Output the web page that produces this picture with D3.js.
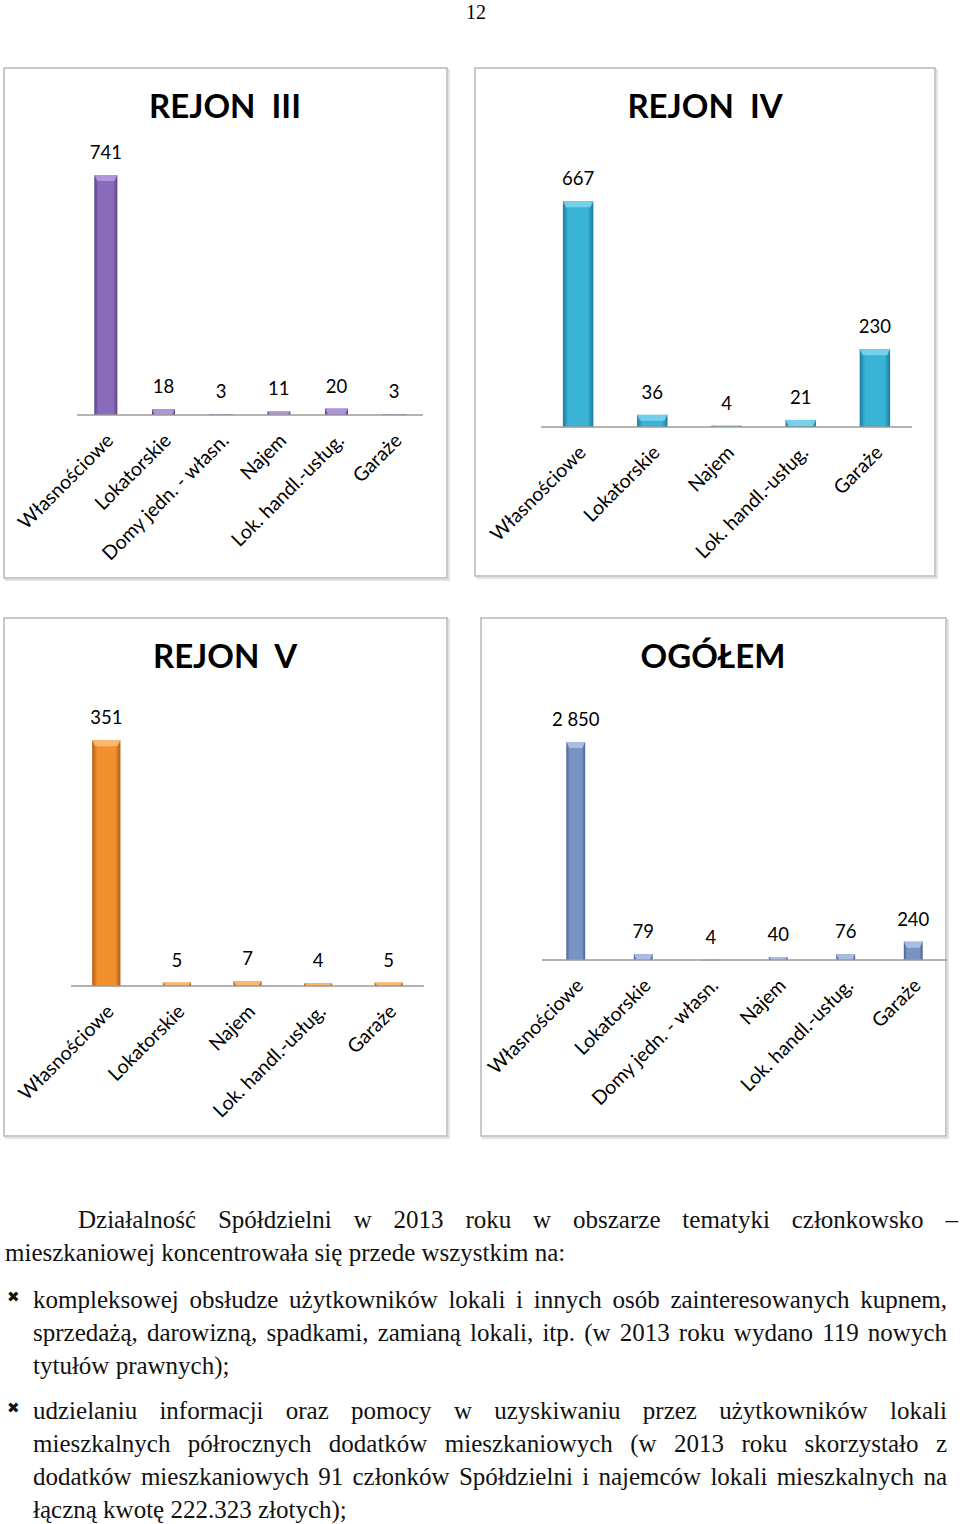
<!DOCTYPE html>
<html><head><meta charset="utf-8">
<script src="https://cdn.jsdelivr.net/npm/d3@7"></script>
<style>
html,body{margin:0;padding:0;background:#fff;}
svg{display:block;}
</style></head>
<body>
<svg id="c" width="960" height="1524"></svg>
<script>
// ---- data ----
const catsIII = ["Własnościowe","Lokatorskie","Domy jedn. - własn.","Najem","Lok. handl.-usług.","Garaże"];
const valsIII = [741,18,3,11,20,3];
const catsIV = ["Własnościowe","Lokatorskie","Najem","Lok. handl.-usług.","Garaże"];
const valsIV = [667,36,4,21,230];
const catsV = ["Własnościowe","Lokatorskie","Najem","Lok. handl.-usług.","Garaże"];
const valsV = [351,5,7,4,5];
const catsAll = ["Własnościowe","Lokatorskie","Domy jedn. - własn.","Najem","Lok. handl.-usług.","Garaże"];
const valsAll = [2850,79,4,40,76,240];
const titles = ["REJON  III","REJON  IV","REJON  V","OGÓŁEM"];

const paraLines = [
  {t:"Działalność Spółdzielni w 2013 roku w obszarze tematyki członkowsko –", x:78, y:1228, just:true},
  {t:"mieszkaniowej koncentrowała się przede wszystkim na:", x:5, y:1261, just:false},
  {t:"kompleksowej obsłudze użytkowników lokali i innych osób zainteresowanych kupnem,", x:33, y:1308, just:true, bullet:true},
  {t:"sprzedażą, darowizną, spadkami, zamianą lokali, itp. (w 2013 roku wydano 119 nowych", x:33, y:1341, just:true},
  {t:"tytułów prawnych);", x:33, y:1374, just:false},
  {t:"udzielaniu informacji oraz pomocy w uzyskiwaniu przez użytkowników lokali", x:33, y:1419, just:true, bullet:true},
  {t:"mieszkalnych półrocznych dodatków mieszkaniowych (w 2013 roku skorzystało z", x:33, y:1452, just:true},
  {t:"dodatków mieszkaniowych 91 członków Spółdzielni i najemców lokali mieszkalnych na", x:33, y:1485, just:true},
  {t:"łączną kwotę 222.323 złotych);", x:33, y:1518, just:false}
];

// ---- layout ----
const svg = d3.select("#c");
const defs = svg.append("defs");
const fmt = d3.formatLocale({thousands:"\u00a0", grouping:[3], decimal:",", currency:["",""]}).format(",d");

const panels = [
  {cats:catsIII, vals:valsIII, title:titles[0], box:[4,68,443,510], titleX:225, titleY:118,
   x0:77, x1:423, axisY:415, yMax:800, yH:259, pad:0.6, col:["#5c4282","#8a6bbb","#b59ee0"]},
  {cats:catsIV, vals:valsIV, title:titles[1], box:[475,68,460,508], titleX:705, titleY:118,
   x0:541, x1:912, axisY:427, yMax:700, yH:237, pad:0.59, col:["#1b7a9c","#3ab4d6","#7fd6ee"]},
  {cats:catsV, vals:valsV, title:titles[2], box:[4,618,443,518], titleX:225, titleY:668,
   x0:71, x1:424, axisY:986, yMax:400, yH:280, pad:0.6, col:["#b85a12","#f0902e","#fbbf7a"]},
  {cats:catsAll, vals:valsAll, title:titles[3], box:[481,618,465,518], titleX:713, titleY:668,
   x0:542, x1:947, axisY:960, yMax:3000, yH:229.5, pad:0.72, col:["#4a6390","#7894c4","#b0c4e6"]}
];

panels.forEach((p,i)=>{
  const g = svg.append("g");
  // frame
  g.append("rect").attr("x",p.box[0]+2).attr("y",p.box[1]+2).attr("width",p.box[2]).attr("height",p.box[3])
    .attr("fill","none").attr("stroke","#e2e2e2").attr("stroke-width",2);
  g.append("rect").attr("x",p.box[0]).attr("y",p.box[1]).attr("width",p.box[2]).attr("height",p.box[3])
    .attr("fill","#fff").attr("stroke","#b8b8b8").attr("stroke-width",1.5);
  g.append("text").attr("x",p.titleX).attr("y",p.titleY).attr("text-anchor","middle")
    .attr("font-family","Lato, 'Open Sans', sans-serif").attr("font-weight","bold").attr("font-size",33)
    .attr("fill","#000").style("white-space","pre").text(p.title);

  const x = d3.scaleBand().domain(p.cats).range([p.x0,p.x1]).paddingInner(p.pad).paddingOuter(p.pad/2);
  const y = d3.scaleLinear().domain([0,p.yMax]).range([p.axisY, p.axisY - p.yH]);

  const gid = "grad"+i;
  const lg = defs.append("linearGradient").attr("id",gid).attr("x1","0").attr("x2","1").attr("y1","0").attr("y2","0");
  lg.append("stop").attr("offset","0").attr("stop-color",p.col[0]);
  lg.append("stop").attr("offset","0.18").attr("stop-color",p.col[1]);
  lg.append("stop").attr("offset","0.82").attr("stop-color",p.col[1]);
  lg.append("stop").attr("offset","1").attr("stop-color",p.col[0]);

  const bars = g.selectAll(".bar").data(p.vals.map((v,k)=>({c:p.cats[k],v}))).enter().append("g");
  bars.append("rect")
    .attr("x",d=>x(d.c)).attr("width",x.bandwidth())
    .attr("y",d=>y(d.v)).attr("height",d=>Math.max(0.8, p.axisY - y(d.v)))
    .attr("fill","url(#"+gid+")");
  // top bevel
  bars.append("path")
    .attr("d",d=>{
      const h = Math.min(6, Math.max(0.8,p.axisY - y(d.v)));
      const x0 = x(d.c), w = x.bandwidth(), t = y(d.v);
      return `M${x0},${t}L${x0+w},${t}L${x0+w-3},${t+h}L${x0+3},${t+h}Z`;
    })
    .attr("fill",p.col[2]).attr("opacity",0.85);
  bars.append("text")
    .attr("x",d=>x(d.c)+x.bandwidth()/2).attr("y",d=>y(d.v)-16)
    .attr("text-anchor","middle").attr("font-family","Lato, 'Open Sans', sans-serif").attr("font-size",18.5)
    .attr("fill","#000").text(d=>fmt(d.v));

  const ax = g.append("g").attr("transform",`translate(0,${p.axisY})`)
    .call(d3.axisBottom(x).tickSize(0).tickSizeOuter(0));
  ax.select(".domain").attr("stroke","#9a9a9a").attr("stroke-width",1.5).attr("d",`M${p.x0},0H${p.x1}`);
  ax.selectAll(".tick text")
    .attr("font-family","Lato, 'Open Sans', sans-serif").attr("font-size",19.5).attr("fill","#000")
    .attr("text-anchor","end").attr("x",0).attr("y",0).attr("dy","0.35em")
    .attr("transform","translate(4,22) rotate(-45)");
});

// page number
svg.append("text").attr("x",476).attr("y",19).attr("text-anchor","middle")
  .attr("font-family","'Liberation Serif', 'Times New Roman', serif").attr("font-size",20).text("12");

// paragraph
const RIGHT = 947;
const para = svg.append("g").attr("font-family","'Liberation Serif', 'Times New Roman', serif")
  .attr("font-size",25).attr("fill","#111");
paraLines.forEach((L,li)=>{
  const right = li===0 ? 958 : RIGHT;
  if (L.bullet) {
    para.append("text").attr("x",7).attr("y",L.y-6).attr("font-family","'DejaVu Sans', sans-serif")
      .attr("font-size",15).attr("font-weight","bold").text("✖");
  }
  if (!L.just) {
    para.append("text").attr("x",L.x).attr("y",L.y).text(L.t);
    return;
  }
  const words = L.t.split(" ");
  const ws = words.map(w=>{
    const t = para.append("text").attr("y",L.y).text(w);
    return {node:t, w:t.node().getComputedTextLength()};
  });
  const total = d3.sum(ws,d=>d.w);
  const gap = (right - L.x - total)/(words.length-1);
  let cx = L.x;
  ws.forEach(d=>{ d.node.attr("x",cx); cx += d.w + gap; });
});
</script>
</body></html>
